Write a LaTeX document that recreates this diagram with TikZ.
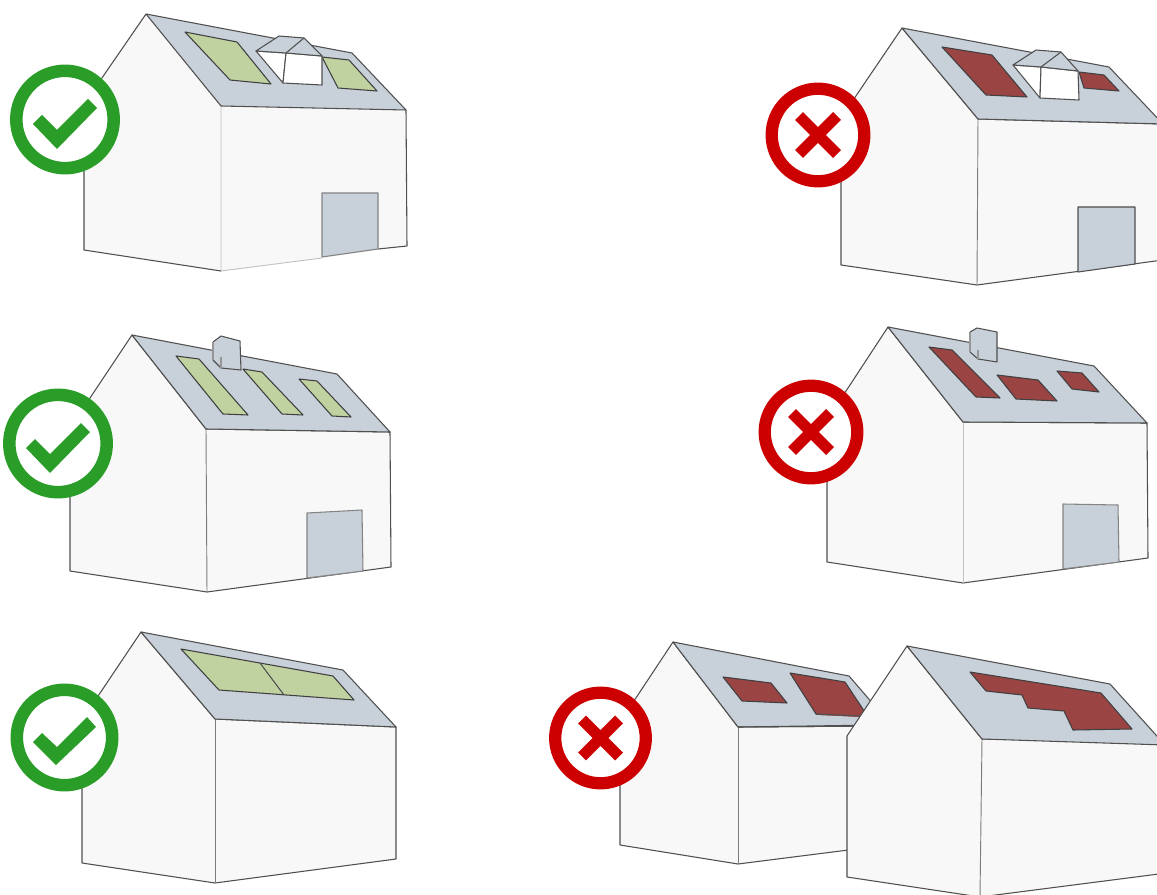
\documentclass[tikz,border=0pt]{standalone}
\definecolor{wallc}{HTML}{F8F8F8}
\definecolor{roofc}{HTML}{C8D0D9}
\definecolor{okpanel}{HTML}{C1D2A1}
\definecolor{badpanel}{HTML}{9B4444}
\definecolor{okc}{HTML}{2A9D28}
\definecolor{badc}{HTML}{CC0000}
\definecolor{linec}{HTML}{505050}
\tikzset{
  edge/.style={draw=linec,line width=0.8pt,line join=round},
  wall/.style={edge,fill=wallc},
  corner/.style={draw=linec!75!white,line width=0.7pt},
  faint/.style={draw=linec!35!white,line width=0.7pt},
  roof/.style={edge,fill=roofc},
  okp/.style={edge,draw=linec!80!black,fill=okpanel},
  badp/.style={edge,draw=linec!80!black,fill=badpanel},
  glass/.style={edge,fill=white},
  okring/.style={draw=okc,fill=white,line width=9.4pt},
  badring/.style={draw=badc,fill=white,line width=9.2pt},
  okmark/.style={fill=okc},
  badmark/.style={draw=badc,line width=8.4pt}
}
\begin{document}
\begin{tikzpicture}[x=0.75pt,y=-0.75pt]
\useasboundingbox (0,0) rectangle (1157,895);
\clip (0,0) rectangle (1157,895);
\fill[white] (0,0) rectangle (1157,895);

% House 1 (top left)
\fill[wallc] (146,14) -- (84,104) -- (84,250) -- (221,271) -- (407,246) -- (406,110) -- (221,106) -- cycle;
\draw[faint] (221,106) -- (221,271) -- (322,258);
\draw[edge] (146,14) -- (84,104) -- (84,250) -- (221,271);
\draw[edge] (378,249) -- (407,246) -- (406,110);
\draw[roof] (146,14) -- (352,53) -- (406,110) -- (221,106) -- cycle;
\draw[okp] (185,32) -- (237,42) -- (271,84) -- (230,80) -- cycle;
\draw[okp] (322,57) -- (349,60) -- (377,91) -- (338,88) -- cycle;
\draw[glass] (256,51) -- (286,53) -- (283,83) -- cycle;
\draw[glass] (286,53) -- (322,56) -- (322,85) -- (283,83) -- cycle;
\draw[roof] (256,51) -- (279,36) -- (304,38) -- (322,56) -- (286,53) -- cycle;
\draw[edge] (286,53) -- (304,38);
\draw[roof,draw=linec!70!white] (322,193) -- (378,193) -- (378,249) -- (322,257) -- cycle;

% House 2 (top right)
\draw[wall] (902,28) -- (841,118) -- (841,265) -- (977,285) -- (1163,260) -- (1163,124) -- (978,119) -- cycle;
\draw[corner] (978,119) -- (977,285);
\draw[roof] (902,28) -- (1109,67) -- (1163,124) -- (978,119) -- cycle;
\draw[badp] (942,47) -- (992,55) -- (1027,97) -- (986,95) -- cycle;
\draw[badp] (1079,72) -- (1104,75) -- (1119,91) -- (1084,88) -- cycle;
\draw[glass] (1013,65) -- (1041,67) -- (1040,98) -- cycle;
\draw[glass] (1041,67) -- (1078,71) -- (1079,100) -- (1040,98) -- cycle;
\draw[roof] (1013,65) -- (1036,50) -- (1061,52) -- (1078,71) -- (1041,67) -- cycle;
\draw[edge] (1041,67) -- (1061,52);
\draw[roof] (1078,207) -- (1135,207) -- (1135,264) -- (1078,272) -- cycle;

% House 3 (middle left)
\draw[wall] (132,335) -- (70,428) -- (70,571) -- (207,592) -- (391,567) -- (390,432) -- (206,429) -- cycle;
\draw[corner] (206,429) -- (207,592);
\draw[roof] (132,335) -- (337,374) -- (390,432) -- (206,429) -- cycle;
\draw[okp] (176,356) -- (199,359) -- (248,415) -- (223,414) -- cycle;
\draw[okp] (243,369) -- (262,372) -- (303,415) -- (282,414) -- cycle;
\draw[okp] (299,379) -- (317,381) -- (351,417) -- (332,416) -- cycle;
\fill[roofc] (213,342) -- (221,336) -- (240,341) -- (241,370) -- (221,368) -- (213,360) -- cycle;
\draw[edge] (213,342) -- (221,336) -- (240,341) -- (241,370) -- (221,368) -- (213,360);
\draw[edge,draw=linec!60!white] (213,342) -- (213,360);
\draw[edge,draw=linec!60!white] (221,357) -- (221,368);
\draw[roof,draw=linec!70!white] (307,513) -- (362,510) -- (363,571) -- (307,578) -- cycle;

% House 4 (middle right)
\draw[wall] (888,327) -- (827,420) -- (827,562) -- (963,583) -- (1148,558) -- (1147,423) -- (963,422) -- cycle;
\draw[faint] (963,422) -- (963,583);
\draw[roof] (888,327) -- (1094,366) -- (1147,423) -- (963,422) -- cycle;
\draw[badp] (929,347) -- (952,350) -- (1000,398) -- (976,397) -- cycle;
\draw[badp] (997,375) -- (1038,380) -- (1057,401) -- (1016,399) -- cycle;
\draw[badp] (1057,371) -- (1082,373) -- (1099,392) -- (1072,389) -- cycle;
\fill[roofc] (970,332) -- (977,328) -- (997,332) -- (997,362) -- (978,359) -- (970,352) -- cycle;
\draw[edge] (970,332) -- (977,328) -- (997,332) -- (997,362) -- (978,359) -- (970,352);
\draw[edge,draw=linec!60!white] (970,332) -- (970,352);
\draw[edge,draw=linec!60!white] (978,350) -- (978,359);
\draw[roof,draw=linec!70!white] (1063,504) -- (1118,505) -- (1119,562) -- (1063,569) -- cycle;

% House 5 (bottom left)
\draw[wall] (141,632) -- (82,720) -- (82,863) -- (215,883) -- (396,859) -- (396,727) -- (215,719) -- cycle;
\draw[corner] (215,719) -- (215,883);
\draw[roof] (141,632) -- (343,670) -- (396,727) -- (215,719) -- cycle;
\draw[okp] (181,649) -- (333,676) -- (354,700) -- (219,690) -- cycle;
\draw[edge] (260,663) -- (284,695);

% House 6 (bottom middle, behind house 7)
\draw[wall] (673,642) -- (620,722) -- (620,845) -- (738,864) -- (880,846) -- (880,726) -- (738,727) -- cycle;
\draw[corner] (738,727) -- (738,864);
\draw[roof] (673,642) -- (849,676) -- (880,712) -- (880,726) -- (738,727) -- cycle;
\draw[badp] (723,677) -- (771,683) -- (787,703) -- (742,701) -- cycle;
\draw[badp] (790,673) -- (845,682) -- (880,735) -- (816,714) -- cycle;
\fill[roofc] (816,715) -- (880,718) -- (880,725) -- (800,726) -- cycle;
\draw[edge] (738,727) -- (880,725);
\draw[edge] (816,714) -- (880,717);

% House 7 (bottom right)
\draw[wall] (907,646) -- (847,736) -- (847,877) -- (980,897) -- (1190,870) -- (1190,741) -- (982,739) -- cycle;
\draw[corner] (982,739) -- (980,897);
\draw[roof] (907,646) -- (1110,684) -- (1165,745) -- (982,739) -- cycle;
\draw[badp] (970,672) -- (1101,693) -- (1132,729) -- (1073,730) -- (1064,711) -- (1028,708) -- (1022,695) -- (986,691) -- cycle;

% Badges
\draw[okring] (65,119.5) circle (48.7);
\fill[okmark] (33,124) -- (42,115) -- (57,130) -- (88,99) -- (97,108) -- (57,149) -- cycle;
\draw[okring] (58,443.5) circle (48.7);
\fill[okmark] (26,448) -- (35,439) -- (50,454) -- (81,423) -- (90,432) -- (50,473) -- cycle;
\draw[okring] (64.5,737.5) circle (47.7);
\fill[okmark] (33,742) -- (42,733) -- (57,747) -- (87,717) -- (96,727) -- (56,765) -- cycle;

\draw[badring] (818,135) circle (46.3);
\draw[badmark] (799,116) -- (837,154) (837,116) -- (799,154);
\draw[badring] (811,432) circle (46.3);
\draw[badmark] (792,413) -- (830,451) (830,413) -- (792,451);
\draw[badring] (600.5,738) circle (45.3);
\draw[badmark] (582,719.5) -- (619,756.5) (619,719.5) -- (582,756.5);
\end{tikzpicture}
\end{document}
